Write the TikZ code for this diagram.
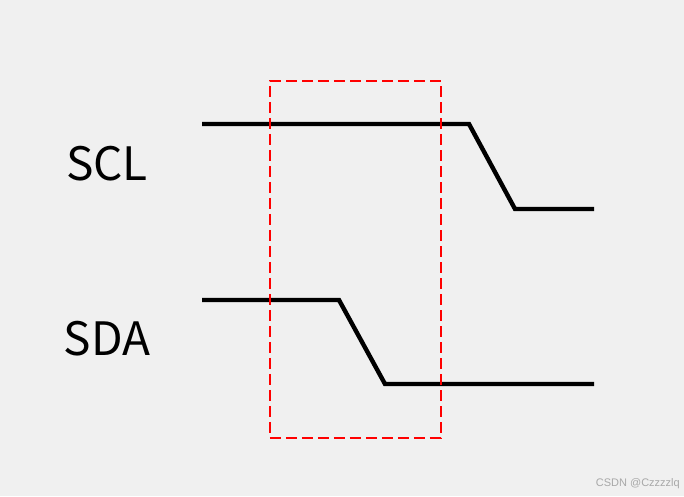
\documentclass[tikz,border=0pt]{standalone}
\usepackage{fontspec}
\newfontfamily\lblfont{Noto Sans CJK SC}
\definecolor{bg}{HTML}{F0F0F0}
\definecolor{wm}{HTML}{A8A8A8}
\begin{document}
\begin{tikzpicture}[x=1pt,y=-1pt,
  sig/.style={line width=4.4pt,line join=miter},
  win/.style={draw=red,line width=1.6pt,dash pattern=on 11pt off 5pt},
  lbl/.style={font=\lblfont\fontsize{46}{50}\selectfont,inner sep=0pt,anchor=base}]
\fill[bg] (0,0) rectangle (684,496);
\useasboundingbox (0,0) rectangle (684,496);
% SCL
\coordinate (c0) at (202,124);
\coordinate (c1) at (469,124);
\coordinate (c2) at (515,209);
\coordinate (c3) at (594,209);
\draw[sig] (c0) -- (c1) -- (c2) -- (c3);
% SDA
\coordinate (d0) at (202,300);
\coordinate (d1) at (339,300);
\coordinate (d2) at (385,384);
\coordinate (d3) at (594,384);
\draw[sig] (d0) -- (d1) -- (d2) -- (d3);
% window
\node[win,minimum width=171pt,minimum height=357pt,inner sep=0pt,anchor=north west] (box) at (269,80) {};
\node[lbl] (scl) at (107,180) {SCL};
\node[lbl] (sda) at (107,355) {SDA};
\node[font=\fontspec{Liberation Sans}\fontsize{11}{13}\selectfont,text=wm,anchor=base east,inner sep=0pt] (wmk) at (680,486) {CSDN @Czzzzlq};
\end{tikzpicture}
\end{document}
